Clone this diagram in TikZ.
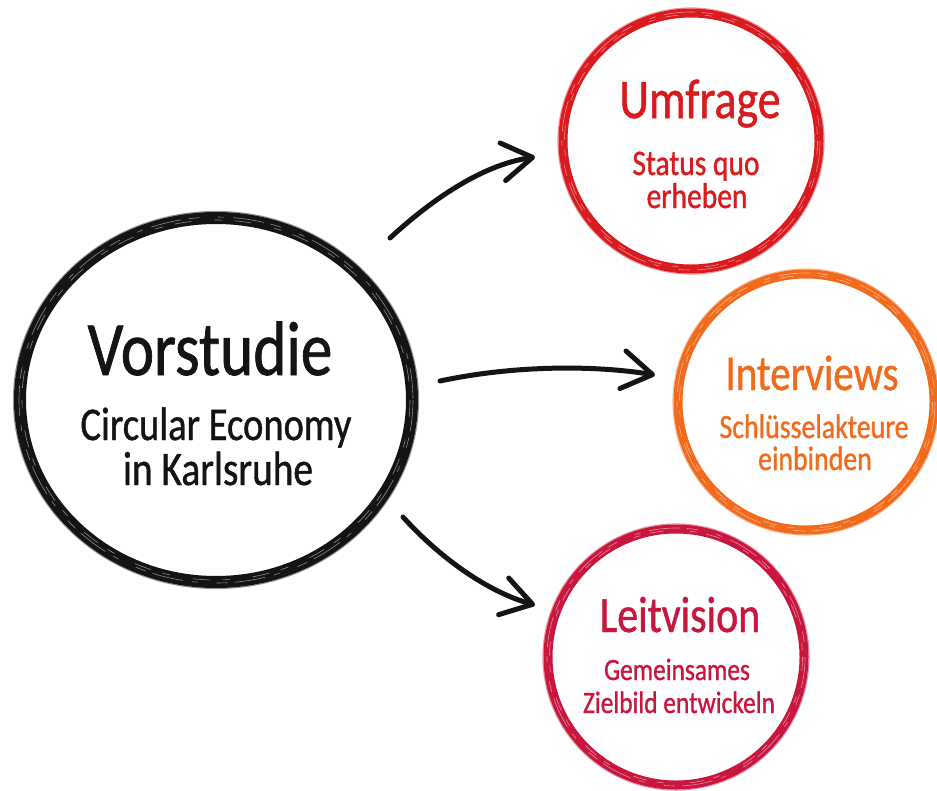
\documentclass[tikz,border=0pt]{standalone}
\usepackage{fontspec}
\setmainfont[FakeStretch=0.82,FakeBold=0.9]{Carlito}
\usetikzlibrary{arrows.meta,shapes.geometric}
\definecolor{umred}{HTML}{D91A1E}
\definecolor{intor}{HTML}{F26A1C}
\definecolor{leitcr}{HTML}{C8163F}
\definecolor{ink}{HTML}{141414}
\begin{document}
\begin{tikzpicture}[x=1pt,y=-1pt,
  ring/.style={circle, draw=#1, line width=9pt, minimum size=256pt, inner sep=0pt},
  streak/.style={draw=white, line width=0.6pt, dash pattern=on 31pt off 7pt on 11pt off 19pt on 6pt off 9pt, opacity=.5},
  bristle/.style={draw=#1, line width=1.2pt, opacity=.45},
  titletxt/.style={anchor=base, text=#1},
  subtxt/.style={anchor=base, text=#1},
  flow/.style={draw=ink, line width=5pt, line cap=round, line join=round,
    -{Straight Barb[length=30pt,width=38pt,line cap=round,line join=round]}}
]
\useasboundingbox[fill=white] (0,0) rectangle (937,790);

% central ellipse
\node[ellipse, draw=ink, line width=12pt, minimum width=392pt, minimum height=364pt, inner sep=0pt] (vor) at (216,400) {};
\draw[streak] (vor.center) ellipse[x radius=197, y radius=183];
\draw[streak, dash pattern=on 17pt off 23pt on 8pt off 12pt] (vor.center) ellipse[x radius=194, y radius=180];
\draw[bristle=ink] (vor.center) ellipse[x radius=202.5, y radius=188.5];

% outer rings
\node[ring=umred] (umf) at (691,141) {};
\node[ring=intor] (int) at (806,402) {};
\node[ring=leitcr] (leit) at (676,657) {};
\foreach \n/\c in {umf/umred, int/intor, leit/leitcr}{
  \draw[streak] (\n.center) circle[radius=129];
  \draw[streak, dash pattern=on 14pt off 26pt on 7pt off 10pt] (\n.center) circle[radius=126.5];
  \draw[bristle=\c] (\n.center) circle[radius=133];
}

% texts
\node[anchor=base, text=ink, font=\fontsize{77}{80}\selectfont] (vt) at (210,375) {Vorstudie};
\node[anchor=base, text=ink, font=\fontsize{47}{50}\selectfont] (vs1) at (216,440) {Circular Economy};
\node[anchor=base, text=ink, font=\fontsize{48}{50}\selectfont] (vs2) at (218,485) {in Karlsruhe};

\node[titletxt=umred, font=\fontsize{56}{58}\selectfont] (ut) at (700,118) {Umfrage};
\node[subtxt=umred, font=\fontsize{36}{38}\selectfont] (us1) at (696,175) {Status quo};
\node[subtxt=umred, font=\fontsize{36}{38}\selectfont] (us2) at (697,208) {erheben};

\node[titletxt=intor, font=\fontsize{50}{52}\selectfont] (it) at (812,390) {Interviews};
\node[subtxt=intor, font=\fontsize{34}{36}\selectfont] (is1) at (814,438) {Schlüsselakteure};
\node[subtxt=intor, font=\fontsize{34}{36}\selectfont] (is2) at (815,470) {einbinden};

\node[titletxt=leitcr, font=\fontsize{51}{53}\selectfont] (lt) at (680,632) {Leitvision};
\node[subtxt=leitcr, font=\fontsize{31}{33}\selectfont] (ls1) at (677,680) {Gemeinsames};
\node[subtxt=leitcr, font=\fontsize{31}{33}\selectfont] (ls2) at (679,713) {Zielbild entwickeln};

% arrow ends
\coordinate (a1s) at (390,238);
\coordinate (a1e) at (535,157);
\coordinate (a2s) at (440,381);
\coordinate (a2e) at (655,375);
\coordinate (a3s) at (403,517);
\coordinate (a3e) at (535,605);

\draw[flow] (a1s) .. controls (440,192) and (488,164) .. (a1e);
\draw[flow] (a2s) .. controls (520,364) and (600,366) .. (a2e);
\draw[flow] (a3s) .. controls (440,558) and (488,592) .. (a3e);
\end{tikzpicture}
\end{document}
